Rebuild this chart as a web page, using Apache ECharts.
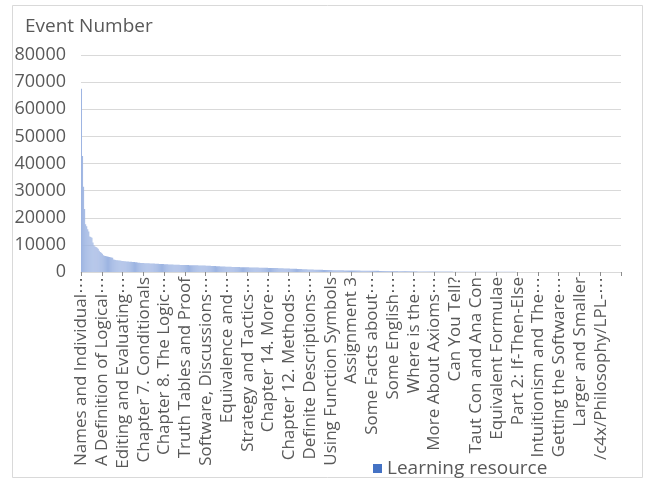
<!DOCTYPE html>
<html>
<head>
<meta charset="utf-8">
<script src="https://cdn.jsdelivr.net/npm/echarts@6/dist/echarts.min.js"></script>
<style>
  html, body { margin: 0; padding: 0; background: #ffffff; }
  #chart { width: 648px; height: 481px; }
</style>
</head>
<body>
<div id="chart"></div>
<script>
// Resource titles printed under the axis (one every 20 resources)
const shownTitles = [
  "Names and Individual⋯", "A Definition of Logical⋯", "Editing and Evaluating⋯",
  "Chapter 7. Conditionals", "Chapter 8. The Logic⋯", "Truth Tables and Proof",
  "Software, Discussions⋯", "Equivalence and⋯", "Strategy and Tactics⋯",
  "Chapter 14. More⋯", "Chapter 12. Methods⋯", "Definite Descriptions⋯",
  "Using Function Symbols", "Assignment 3", "Some Facts about⋯",
  "Some English⋯", "Where is the⋯", "More About Axioms⋯", "Can You Tell?",
  "Taut Con and Ana Con", "Equivalent Formulae", "Part 2: If-Then-Else",
  "Intuitionism and The⋯", "Getting the Software⋯", "Larger and Smaller",
  "/c4x/Philosophy/LPL-⋯"
];
const labelStep = 20;

// Event counts per learning resource, sorted from most to least used
const eventCounts = [
  67520, 42810, 31460, 23190, 17640, 16870, 15720, 14930, 13120, 12880, 12650, 10870, 9820, 9390, 9210, 8930, 8570, 7830, 7390, 7080,
  6760, 6190, 6030, 5910, 5840, 5720, 5610, 5530, 5470, 5390, 5280, 4610, 4520, 4430, 4370, 4310, 4240, 4220, 4160, 4090,
  4060, 3990, 3970, 3910, 3890, 3860, 3810, 3780, 3770, 3720, 3690, 3680, 3640, 3610, 3460, 3410, 3400, 3350, 3340, 3300,
  3280, 3270, 3240, 3220, 3210, 3180, 3160, 3150, 3120, 3100, 3090, 3060, 3050, 3020, 3000, 2990, 2960, 2940, 2930, 2910,
  2880, 2870, 2840, 2820, 2810, 2780, 2770, 2740, 2730, 2700, 2690, 2670, 2660, 2640, 2640, 2620, 2610, 2600, 2590, 2580,
  2570, 2570, 2550, 2540, 2530, 2520, 2520, 2500, 2490, 2480, 2470, 2460, 2450, 2440, 2430, 2420, 2410, 2400, 2390, 2370,
  2350, 2340, 2310, 2290, 2280, 2250, 2240, 2210, 2200, 2170, 2160, 2130, 2110, 2100, 2070, 2060, 2030, 2010, 2000, 1980,
  1950, 1940, 1910, 1900, 1890, 1870, 1870, 1850, 1840, 1830, 1820, 1810, 1800, 1790, 1780, 1770, 1760, 1760, 1740, 1730,
  1730, 1710, 1700, 1700, 1680, 1670, 1660, 1650, 1640, 1630, 1620, 1610, 1610, 1590, 1580, 1570, 1560, 1550, 1540, 1530,
  1520, 1510, 1500, 1490, 1480, 1470, 1460, 1450, 1440, 1430, 1410, 1390, 1370, 1350, 1340, 1310, 1300, 1290, 1270, 1260,
  1250, 1240, 1230, 1220, 1200, 1190, 1180, 1160, 1140, 1130, 1110, 1090, 1070, 1050, 1030, 1010, 990, 970, 960, 930,
  920, 900, 890, 880, 870, 860, 850, 840, 830, 820, 810, 800, 790, 780, 770, 760, 750, 740, 730, 720,
  710, 700, 690, 680, 670, 660, 650, 640, 630, 620, 610, 600, 600, 590, 580, 580, 570, 570, 560, 560,
  550, 550, 540, 540, 530, 520, 520, 510, 510, 500, 500, 490, 490, 480, 480, 470, 470, 460, 460, 450,
  450, 440, 440, 430, 430, 420, 420, 410, 410, 400, 400, 390, 390, 380, 380, 370, 370, 360, 360, 350,
  350, 340, 340, 330, 330, 320, 320, 310, 310, 300, 300, 290, 290, 280, 280, 270, 270, 260, 260, 250,
  250, 240, 240, 240, 230, 230, 230, 220, 220, 220, 210, 210, 210, 200, 200, 200, 190, 190, 190, 180,
  180, 180, 170, 170, 170, 170, 160, 160, 160, 160, 150, 150, 150, 150, 140, 140, 140, 140, 130, 130,
  130, 130, 130, 120, 120, 120, 120, 120, 110, 110, 110, 110, 110, 100, 100, 100, 100, 100, 95, 95,
  92, 90, 90, 88, 86, 85, 84, 82, 80, 80, 78, 76, 75, 74, 72, 70, 70, 68, 67, 66,
  65, 64, 63, 62, 61, 60, 59, 58, 57, 56, 55, 54, 53, 52, 51, 50, 49, 48, 47, 46,
  45, 44, 44, 43, 42, 41, 40, 40, 39, 38, 37, 36, 36, 35, 34, 33, 32, 32, 31, 30,
  30, 29, 28, 28, 27, 26, 26, 25, 24, 24, 23, 22, 22, 21, 21, 20, 20, 19, 19, 18,
  18, 17, 17, 16, 16, 15, 15, 14, 14, 13, 13, 12, 12, 12, 11, 11, 10, 10, 10, 9,
  9, 9, 8, 8, 8, 7, 7, 7, 6, 6, 6, 5, 5, 5, 5, 4, 4, 4, 4, 3,
  3, 3, 3, 3, 2, 2, 2, 2, 2, 2, 1, 1, 1, 1, 1, 1, 1, 1, 1, 1
];

// Category names: printed titles at every 20th slot, ids elsewhere
const categories = eventCounts.map((_, i) =>
  i % labelStep === 0 ? shownTitles[i / labelStep] : "Resource " + (i + 1)
);

const seriesName = "Learning resource";
const yTicks = { min: 0, max: 80000, step: 10000 };

const FONT = "Open Sans";
const GREY = "#595959";

const chart = echarts.init(document.getElementById("chart"), null, { renderer: "canvas" });
chart.setOption({
  animation: false,
  backgroundColor: "#ffffff",
  textStyle: { fontFamily: FONT },
  title: {
    text: "Event Number",
    left: 20,
    top: 12,
    textStyle: { fontFamily: FONT, fontSize: 19, fontWeight: "normal", color: GREY }
  },
  graphic: [{
    type: "rect",
    shape: { x: 12.5, y: 5.5, width: 630, height: 472 },
    style: { fill: "none", stroke: "#d9d9d9", lineWidth: 1 },
    silent: true
  }],
  legend: {
    data: [seriesName],
    left: 368,
    top: 454,
    icon: "rect",
    itemWidth: 9,
    itemHeight: 9,
    itemGap: 6,
    itemStyle: { color: "#4472C4" },
    textStyle: { fontFamily: FONT, fontSize: 19, color: GREY }
  },
  grid: { left: 81, right: 27, top: 55, bottom: 209, containLabel: false },
  xAxis: {
    type: "category",
    data: categories,
    axisLine: { show: true, lineStyle: { color: "#d9d9d9", width: 1 } },
    axisTick: { show: true, interval: labelStep - 1, length: 4, lineStyle: { color: "#8c8c8c" } },
    axisLabel: {
      interval: labelStep - 1,
      rotate: 90,
      margin: 5,
      fontFamily: FONT,
      fontSize: 17,
      color: GREY
    }
  },
  yAxis: {
    type: "value",
    min: yTicks.min,
    max: yTicks.max,
    interval: yTicks.step,
    axisLine: { show: false },
    axisTick: { show: false },
    splitLine: { lineStyle: { color: "#d9d9d9", width: 1 } },
    axisLabel: {
      fontFamily: FONT, fontSize: 18, color: GREY, margin: 15,
      formatter: v => String(v)
    }
  },
  series: [{
    name: seriesName,
    type: "bar",
    data: eventCounts,
    barWidth: 0.7,
    itemStyle: { color: "#9db4e2" }
  }]
});
</script>
</body>
</html>
